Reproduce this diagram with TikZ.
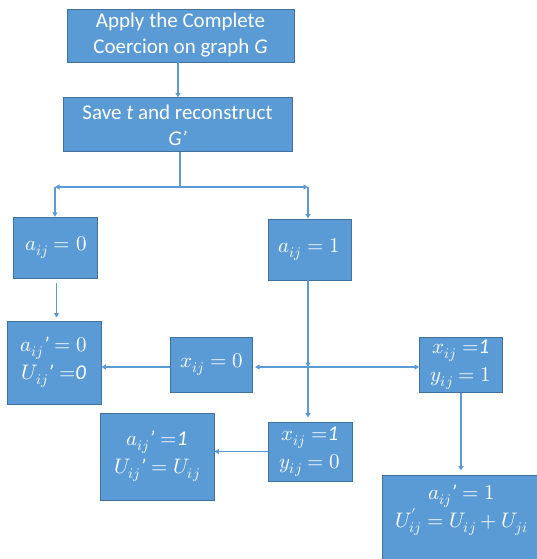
\documentclass[tikz,border=0pt]{standalone}
\usepackage{fontspec}
\usepackage{unicode-math}
\setmainfont{Carlito}
\setmathfont{Latin Modern Math}
\usetikzlibrary{arrows.meta}
\definecolor{boxfill}{HTML}{5B9BD5}
\definecolor{boxline}{HTML}{41719C}
\definecolor{arrcol}{HTML}{5B9BD5}
\newcommand{\apos}{\mbox{\itshape ’}}
\tikzset{
  fbox/.style={draw=boxline, fill=boxfill, line width=0.9pt, text=white, align=center, inner sep=0pt, font=\fontsize{21}{26}\selectfont},
  mbox/.style={fbox, font=\fontsize{21}{28}\selectfont},
  arr/.style={draw=arrcol, line width=1.1pt, -{Triangle[length=4.5pt,width=5pt]}},
  ln/.style={draw=arrcol, line width=1.1pt}
}
\begin{document}
\begin{tikzpicture}[x=1pt,y=-1pt]
\useasboundingbox (0,0) rectangle (537,559);
\node[fbox, minimum width=227pt, minimum height=53pt] (b1) at (180.5,35.5) {Apply the Complete\\Coercion on graph \textit{G}};
\node[fbox, minimum width=229pt, minimum height=54pt] (b2) at (177.5,124.8) {Save \textit{t} and reconstruct\\\textit{G’}};
\node[mbox, minimum width=84pt, minimum height=61pt] (a0) at (55.8,247.7) {$a_{ij} = 0$};
\node[mbox, minimum width=83pt, minimum height=61pt] (a1) at (309.5,249.5) {$a_{ij} = 1$};
\node[mbox, minimum width=94pt, minimum height=83pt] (r0) at (54,362.5) {$a_{ij}\apos = 0$\\$U_{ij}\apos\;{=}\mathit{0}$};
\node[mbox, minimum width=82pt, minimum height=55pt] (x0) at (211.6,364.5) {$x_{ij} = 0$};
\node[mbox, minimum width=83pt, minimum height=55pt] (x1y1) at (461,364.5) {$x_{ij}\;{=}\mathit{1}$\\$y_{ij} = 1$};
\node[mbox, minimum width=114pt, minimum height=87pt] (r1) at (157,456.5) {$a_{ij}\apos\;{=}\mathit{1}$\\$U_{ij}\apos = U_{ij}$};
\node[mbox, minimum width=84pt, minimum height=59pt] (x1y0) at (310,451.5) {$x_{ij}\;{=}\mathit{1}$\\$y_{ij} = 0$};
\node[mbox, minimum width=158pt, minimum height=90pt] (r2) at (461.5,520) {$a_{ij}\apos = 1$\\$U'_{ij} = U_{ij} + U_{ji}$\\\mbox{}};
% connectors
\draw[arr] (b1.south -| 178,0) -- (b2.north -| 178,0);
\coordinate (j1) at (180,187);
\draw[ln] (b2.south -| j1) -- (j1);
\coordinate (jl) at (55,187);
\coordinate (jr) at (308,187);
\draw[arr] (j1) -- (jl);
\draw[arr] (j1) -- (jr);
\draw[arr] (jl) -- (a0.north -| jl);
\draw[arr] (jr) -- (a1.north -| jr);
\draw[arr, shorten <=4pt, shorten >=3pt] (a0.south -| 56.5,0) -- (r0.north -| 56.5,0);
\coordinate (j2) at (308,367);
\draw[arr] (a1.south -| j2) -- (j2);
\draw[arr, shorten >=4pt] (j2) -- (x1y0.north -| j2);
\draw[arr, shorten >=2pt] (j2) -- (x0.east |- j2);
\draw[arr] (j2) -- (x1y1.west |- j2);
\draw[arr] (x0.west |- j2) -- (r0.east |- j2);
\draw[arr] (x1y0.west) -- (r1.east |- x1y0.west);
\draw[arr, shorten <=1pt, shorten >=4pt] (x1y1.south) -- (r2.north -| x1y1.south);
\end{tikzpicture}
\end{document}
